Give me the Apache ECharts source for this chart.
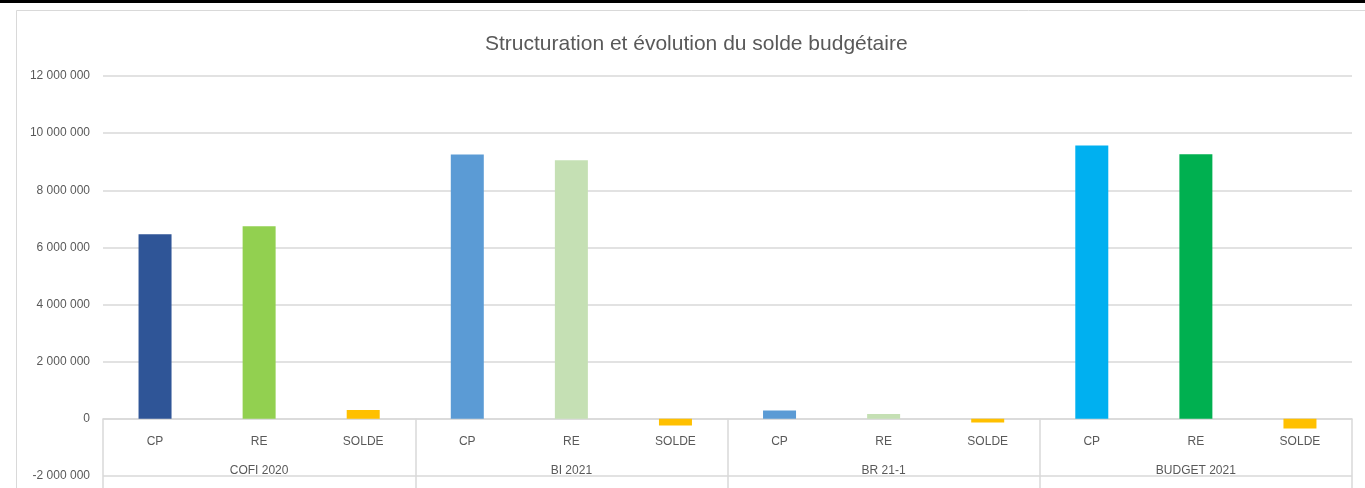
<!DOCTYPE html>
<html>
<head>
<meta charset="utf-8">
<script src="https://cdn.jsdelivr.net/npm/echarts@6/dist/echarts.min.js"></script>
<style>html,body{margin:0;padding:0;background:#fff;}#c{width:1365px;height:488px;}</style>
</head>
<body>
<div id="c"></div>
<script>
const groups = ['COFI 2020', 'BI 2021', 'BR 21-1', 'BUDGET 2021'];
const subCategories = ['CP', 'RE', 'SOLDE', 'CP', 'RE', 'SOLDE', 'CP', 'RE', 'SOLDE', 'CP', 'RE', 'SOLDE'];
const values = [6460000, 6740000, 310000, 9250000, 9050000, -230000, 290000, 170000, -130000, 9570000, 9260000, -340000];
const barColors = ['#2F5597', '#92D050', '#FFC000', '#5B9BD5', '#C5E0B4', '#FFC000', '#5B9BD5', '#C5E0B4', '#FFC000', '#00B0F0', '#00B050', '#FFC000'];
const yMin = -2000000, yMax = 12000000, yStep = 2000000;

function fmt(v) {
  const s = Math.abs(v).toString().replace(/\B(?=(\d{3})+(?!\d))/g, ' ');
  return (v < 0 ? '-' : '') + s;
}

const gridTop = 76, gridBottomPx = 476;
const zeroOffset = -(gridBottomPx - gridTop) * (0 - yMin) / (yMax - yMin);

const chart = echarts.init(document.getElementById('c'), null, {renderer: 'canvas'});
const font = 'Liberation Sans, Arial, sans-serif';
chart.setOption({
  animation: false,
  backgroundColor: '#fff',
  textStyle: {fontFamily: font},
  title: {
    text: 'Structuration et évolution du solde budgétaire',
    left: 480, top: 29,
    textStyle: {fontSize: 21, fontWeight: 'normal', color: '#595959', fontFamily: font}
  },
  graphic: [
    {type: 'rect', shape: {x: 0, y: 0, width: 1365, height: 3}, style: {fill: '#000'}, z: 100},
    {type: 'rect', shape: {x: 16.5, y: 10.5, width: 1400, height: 500}, style: {fill: 'none', stroke: '#D9D9D9', lineWidth: 1}, z: -1}
  ],
  grid: {left: 103, right: 13, top: gridTop, bottom: 488 - gridBottomPx, containLabel: false, outerBoundsMode: 'none'},
  xAxis: [
    {
      type: 'category', data: subCategories, position: 'bottom', offset: zeroOffset,
      axisLine: {onZero: false, lineStyle: {color: '#D9D9D9', width: 1.5}},
      axisTick: {show: false},
      axisLabel: {color: '#595959', fontSize: 12, margin: 17, interval: 0}
    },
    {
      type: 'category', data: groups, position: 'bottom', offset: zeroOffset,
      axisLine: {show: false, onZero: false},
      axisTick: {show: true, length: 70, interval: 0, lineStyle: {color: '#D9D9D9', width: 1.5}},
      axisLabel: {color: '#595959', fontSize: 12, margin: 46, interval: 0}
    }
  ],
  yAxis: {
    type: 'value', min: yMin, max: yMax, interval: yStep,
    axisLine: {show: false}, axisTick: {show: false},
    axisLabel: {color: '#595959', fontSize: 12, margin: 13, formatter: fmt},
    splitLine: {lineStyle: {color: '#D9D9D9', width: 1.5}}
  },
  series: [{
    type: 'bar', xAxisIndex: 0, barWidth: 33,
    data: values.map((v, i) => ({value: v, itemStyle: {color: barColors[i]}}))
  }]
});
</script>
</body>
</html>
